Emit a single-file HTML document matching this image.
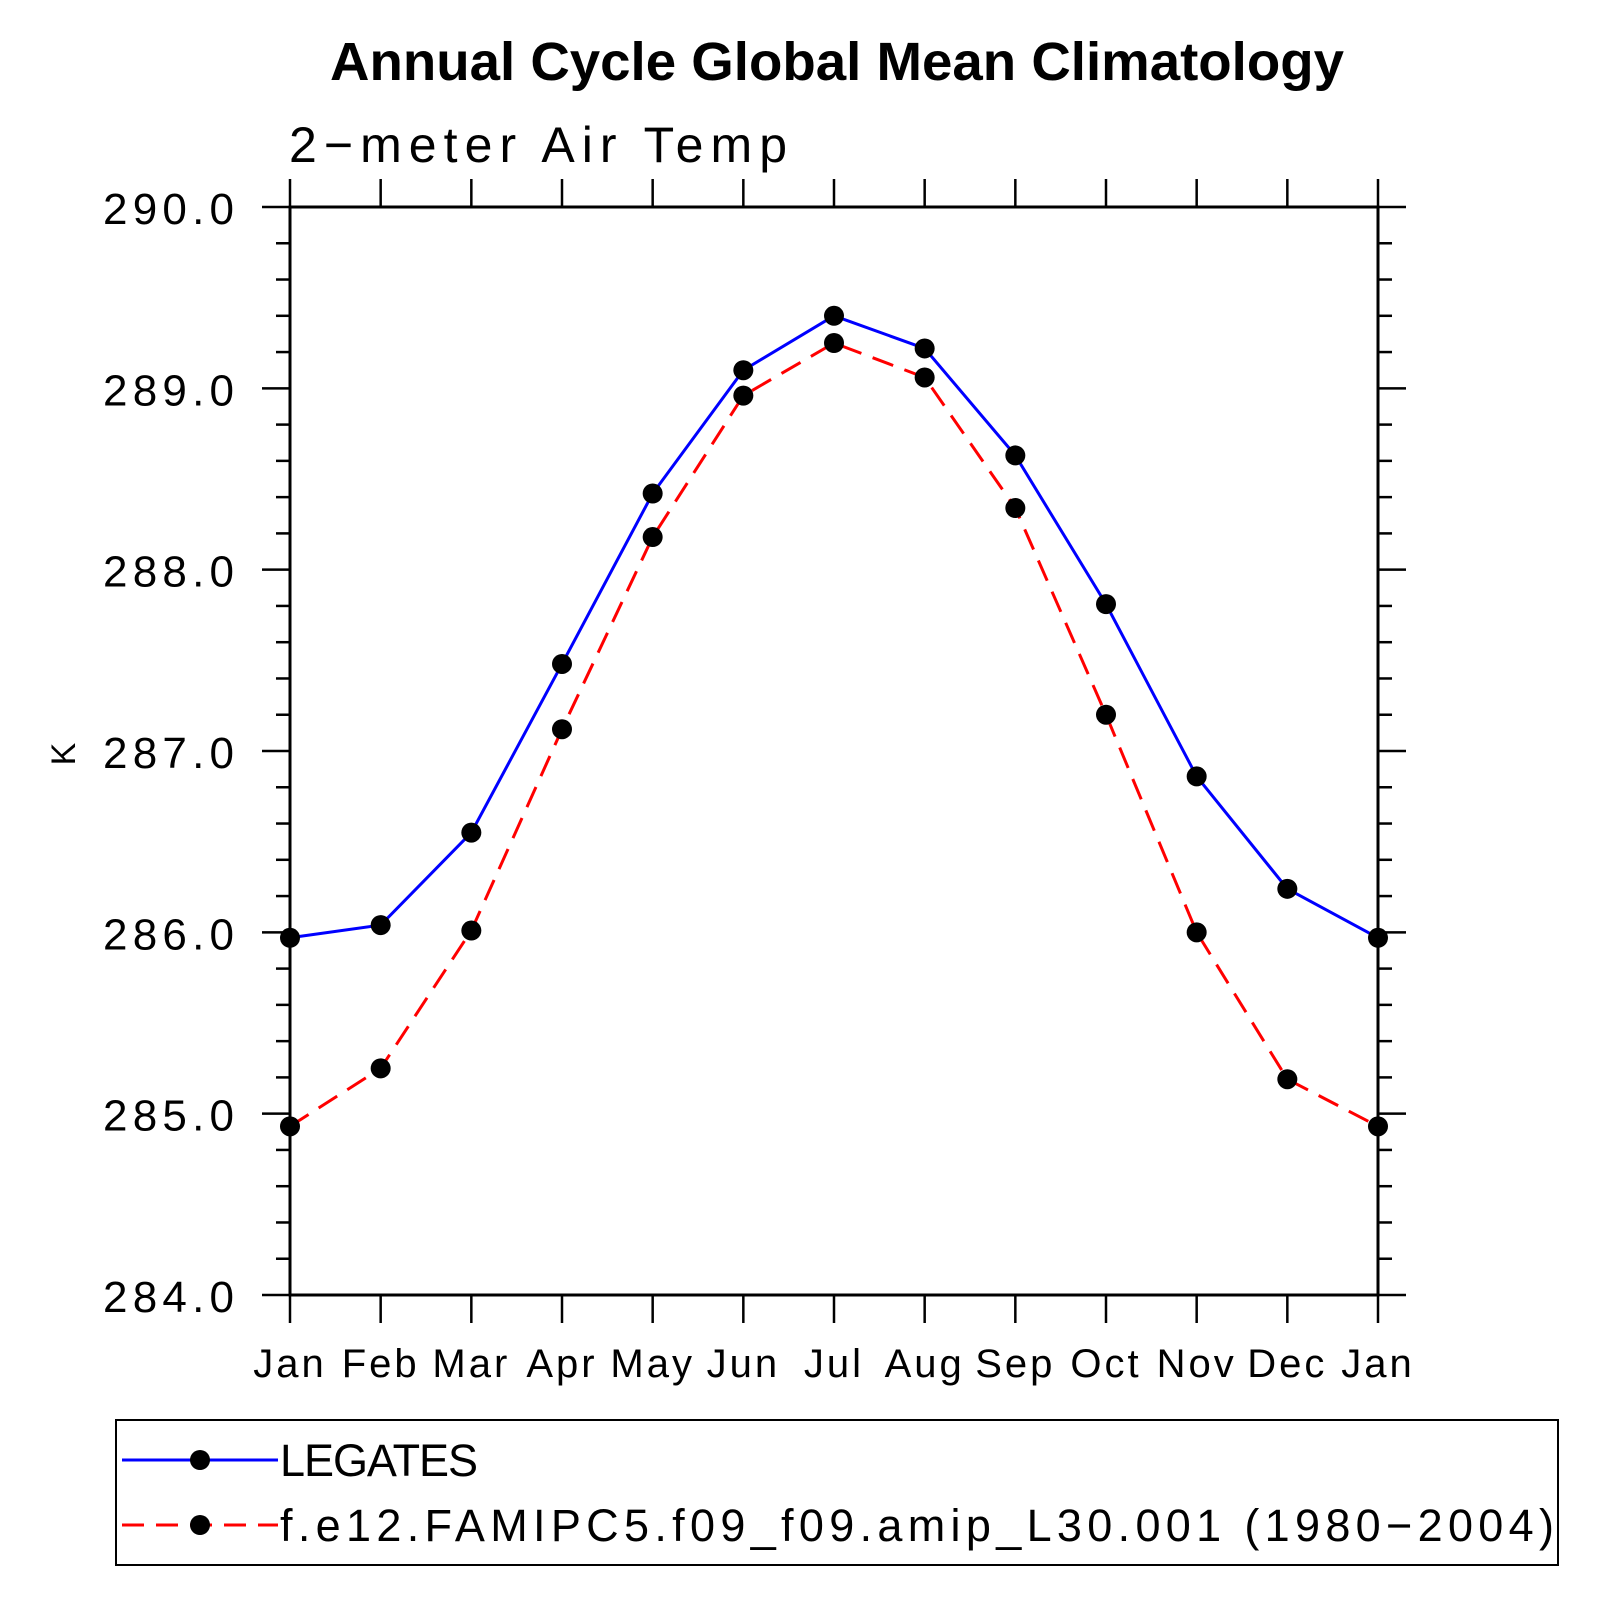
<!DOCTYPE html>
<html><head><meta charset="utf-8"><style>html,body{margin:0;padding:0;background:#fff}svg{display:block}</style></head>
<body>
<svg xmlns="http://www.w3.org/2000/svg" width="1603" height="1603" viewBox="0 0 1603 1603">
<rect width="1603" height="1603" fill="#fff"/>
<text x="330" y="80" textLength="1014" lengthAdjust="spacingAndGlyphs" font-family="Liberation Sans, sans-serif" font-weight="bold" font-size="54">Annual Cycle Global Mean Climatology</text>
<text x="289" y="162" textLength="498" lengthAdjust="spacing" font-family="Liberation Sans, sans-serif" font-size="50">2−meter Air Temp</text>
<g id="axes" stroke="#000" stroke-width="3" fill="none">
<rect x="290" y="207" width="1088" height="1088"/>
</g>
<g id="ticks" stroke="#000" stroke-width="2.5"></g>
<g font-family="Liberation Sans, sans-serif" font-size="44" id="ylab"></g>
<g font-family="Liberation Sans, sans-serif" font-size="40" id="xlab"></g>
<text transform="translate(75,754) rotate(-90)" text-anchor="middle" font-family="Liberation Sans, sans-serif" font-size="34">K</text>
<polyline id="blue" fill="none" stroke="#0000ff" stroke-width="3"/>
<polyline id="red" fill="none" stroke="#ff0000" stroke-width="3" stroke-dasharray="22,12"/>
<g id="dots" fill="#000"></g>
<rect x="116" y="1420" width="1442" height="145" fill="none" stroke="#000" stroke-width="2"/>
<line x1="122" y1="1460" x2="278" y2="1460" stroke="#0000ff" stroke-width="3"/>
<line x1="122" y1="1525" x2="278" y2="1525" stroke="#ff0000" stroke-width="3" stroke-dasharray="22,12"/>
<circle cx="200" cy="1460" r="10"/>
<circle cx="200" cy="1525" r="10"/>
<text x="280" y="1476" textLength="198" lengthAdjust="spacing" font-family="Liberation Sans, sans-serif" font-size="45">LEGATES</text>
<text x="280" y="1541" textLength="1274" lengthAdjust="spacing" font-family="Liberation Sans, sans-serif" font-size="45">f.e12.FAMIPC5.f09_f09.amip_L30.001 (1980−2004)</text>
<script>
var ns="http://www.w3.org/2000/svg";
function el(p,t,a,txt){var e=document.createElementNS(ns,t);for(var k in a)e.setAttribute(k,a[k]);if(txt)e.textContent=txt;document.getElementById(p).appendChild(e);return e;}
var X0=290,X1=1378,Y0=207,Y1=1295,dx=(X1-X0)/12;
function Y(v){return Y0+(290-v)*(Y1-Y0)/6;}
var months=["Jan","Feb","Mar","Apr","May","Jun","Jul","Aug","Sep","Oct","Nov","Dec","Jan"];
for(var i=0;i<13;i++){var x=X0+i*dx;
el("ticks","line",{x1:x,y1:Y1,x2:x,y2:Y1+28});
el("ticks","line",{x1:x,y1:Y0,x2:x,y2:Y0-28});
el("xlab","text",{x:x,y:1377,"text-anchor":"middle","letter-spacing":"3"},months[i]);}
for(var j=0;j<=30;j++){var v=284+j*0.2,y=Y(v),maj=j%5==0,L=maj?28:14;
el("ticks","line",{x1:X0,y1:y,x2:X0-L,y2:y});
el("ticks","line",{x1:X1,y1:y,x2:X1+L,y2:y});
if(maj)el("ylab","text",{x:103,y:y+17,textLength:131,lengthAdjust:"spacing"},v.toFixed(1));}
var b=[285.97,286.04,286.55,287.48,288.42,289.10,289.40,289.22,288.63,287.81,286.86,286.24,285.97];
var r=[284.93,285.25,286.01,287.12,288.18,288.96,289.25,289.06,288.34,287.20,286.00,285.19,284.93];
function pts(a){return a.map(function(v,i){return (X0+i*dx)+","+Y(v)}).join(" ");}
document.getElementById("blue").setAttribute("points",pts(b));
document.getElementById("red").setAttribute("points",pts(r));
[b,r].forEach(function(a){a.forEach(function(v,i){el("dots","circle",{cx:X0+i*dx,cy:Y(v),r:10});});});
</script>
</svg>
</body></html>
